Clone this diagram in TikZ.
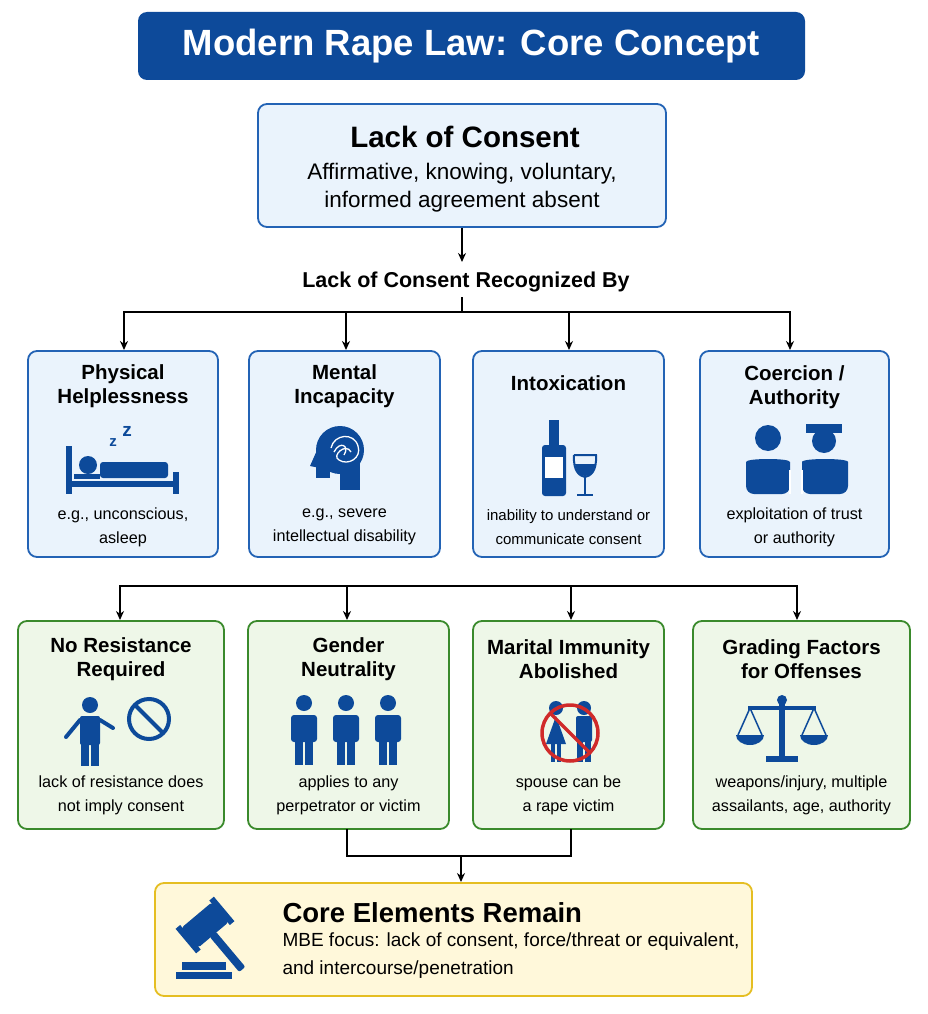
\documentclass[tikz,border=0pt]{standalone}
\usepackage{fontspec}
\setmainfont{Liberation Sans}
\usetikzlibrary{arrows.meta}
\definecolor{navy}{HTML}{0D4A9A}
\definecolor{bbord}{HTML}{2363B5}
\definecolor{bfill}{HTML}{EAF3FC}
\definecolor{gbord}{HTML}{3A8A2C}
\definecolor{gfill}{HTML}{EEF7E8}
\definecolor{ybord}{HTML}{E5BE22}
\definecolor{yfill}{HTML}{FFF8DA}
\definecolor{redp}{HTML}{D02A2A}
\begin{document}
\begin{tikzpicture}[x=1pt,y=-1pt,
  bbox/.style={draw=bbord,fill=bfill,line width=1.8pt,rounded corners=9pt},
  gbox/.style={draw=gbord,fill=gfill,line width=1.8pt,rounded corners=9pt},
  ttl/.style={font=\fontsize{20.5}{24}\selectfont\bfseries,align=center},
  dsc/.style={font=\fontsize{16.2}{24}\selectfont,align=center},
  con/.style={line width=1.6pt,black},
  arr/.style={con,-{Stealth[length=9pt,width=8pt]}},
  ic/.style={fill=navy,draw=none}]
\useasboundingbox (0,0) rectangle (928,1014);
% title
\node[fill=navy,rounded corners=9pt,minimum width=667pt,minimum height=68pt,text=white,font=\fontsize{36.5}{40}\selectfont\bfseries] (title) at (471.5,46) {Modern Rape Law: Core Concept};
% lack of consent
\node[bbox,minimum width=408pt,minimum height=123pt] (loc) at (462,165.5) {};
\node[font=\fontsize{29.5}{32}\selectfont\bfseries] (loct) at (465,137) {Lack of Consent};
\node[font=\fontsize{22.5}{28}\selectfont,align=center] (locd) at (462,188) {Affirmative, knowing, voluntary,\\informed agreement absent};
\node[font=\fontsize{21.5}{24}\selectfont\bfseries] (rb) at (466,282) {Lack of Consent Recognized By};
\draw[arr] (loc.south) -- (462,262);
\coordinate (j1) at (462,312);
\draw[con] (462,297) -- (j1);
\draw[con] (124,312) -- (790,312);
% row 1
\foreach \n/\x/\w in {p1/123/190,p2/344.5/191,p3/568.5/191,p4/794.5/189}{
  \node[bbox,minimum width=\w pt,minimum height=206pt] (\n) at (\x,454) {};}
\foreach \n/\x in {p1/124,p2/346,p3/569,p4/790}{\draw[arr] (\x,311) -- (\x,350);}
\node[ttl] at (123,386) {Physical\\Helplessness};
\node[ttl] at (344.5,386) {Mental\\Incapacity};
\node[ttl] at (568.5,383) {Intoxication};
\node[ttl] at (794.5,387) {Coercion /\\Authority};
\node[dsc] at (123,527) {e.g., unconscious,\\asleep};
\node[dsc] at (344.5,527) {e.g., severe\\intellectual disability};
\node[dsc,font=\fontsize{15}{24}\selectfont] at (568.5,527) {inability to understand or\\communicate consent};
\node[dsc] at (794.5,527) {exploitation of trust\\or authority};
% icon bed
\fill[navy] (66,446) rectangle (72,494);
\fill[navy] (173,472) rectangle (179,494);
\fill[navy] (66,481) rectangle (179,487);
\fill[navy,rounded corners=3pt] (100,462) rectangle (168,478);
\fill[navy] (88,465) circle (9pt);
\fill[navy] (74,474) rectangle (100,479);
\node[text=navy,font=\fontsize{15}{15}\selectfont\bfseries] at (113,443) {z};
\node[text=navy,font=\fontsize{19}{19}\selectfont\bfseries] at (127,431) {z};
% head (facing left)
\fill[navy] (340,450) circle (24pt);
\fill[navy] (340,462) rectangle (360,490);
\fill[navy] (318,448) -- (310,466) -- (320,468) -- cycle;
\fill[navy] (316,460) rectangle (330,478);
\draw[white,line width=1.3pt] (331,448) .. controls (334,434) and (354,432) .. (358,446) .. controls (362,458) and (348,466) .. (339,460) .. controls (331,456) and (346,442) .. (351,452);
\draw[white,line width=1.3pt] (334,452) .. controls (340,440) and (350,446) .. (344,455);
% bottle & glass
\fill[navy,rounded corners=3pt] (542,445) rectangle (566,496);
\fill[navy] (549,420) rectangle (559,448);
\fill[white] (545,457) rectangle (563,478);
\draw[navy,line width=2pt] (574,455) -- (596,455) .. controls (597,472) and (590,476) .. (585,477) .. controls (580,476) and (573,472) .. (574,455);
\fill[navy] (575,464) .. controls (576,472) and (581,476) .. (585,476) .. controls (589,476) and (595,472) .. (595,464) -- cycle;
\draw[navy,line width=2.2pt] (585,477) -- (585,494) (577,495) -- (593,495);
% people + police
\fill[navy] (768,438) circle (13pt);
\fill[navy,rounded corners=8pt] (746,494) -- (746,470) .. controls (746,458) and (790,458) .. (790,470) -- (790,494) -- cycle;
\fill[navy] (824,441) circle (12pt);
\fill[navy] (806,424) rectangle (842,433);
\fill[navy,rounded corners=8pt] (802,494) -- (802,470) .. controls (802,458) and (848,458) .. (848,470) -- (848,494) -- cycle;
\draw[white,line width=1.5pt] (790,470) -- (790,494) (802,470) -- (802,494);
% row 1 to row 2 connector
\draw[con] (120,586) -- (797,586);
\foreach \x in {120,347,571,797}{\draw[arr] (\x,585) -- (\x,620);}
% row 2
\foreach \n/\x/\w in {g1/121/206,g2/348.5/201,g3/568.5/191,g4/801.5/217}{
  \node[gbox,minimum width=\w pt,minimum height=208pt] (\n) at (\x,725) {};}
\node[ttl] at (121,659) {No Resistance\\Required};
\node[ttl] at (348.5,659) {Gender\\Neutrality};
\node[ttl] at (568.5,659) {Marital Immunity\\Abolished};
\node[ttl] at (801.5,659) {Grading Factors\\for Offenses};
\node[dsc] at (121,795) {lack of resistance does\\not imply consent};
\node[dsc] at (348.5,795) {applies to any\\perpetrator or victim};
\node[dsc] at (568.5,795) {spouse can be\\a rape victim};
\node[dsc] at (801.5,795) {weapons/injury, multiple\\assailants, age, authority};
% no resistance icon
\fill[navy] (90,705) circle (8pt);
\fill[navy,rounded corners=2pt] (80,716) rectangle (100,745);
\fill[navy] (81,742) rectangle (89,766);
\fill[navy] (91,742) rectangle (99,766);
\draw[navy,line width=4pt,line cap=round] (80,720) -- (66,737) (100,720) -- (113,728);
\draw[navy,line width=4pt] (149,719) circle (20pt);
\draw[navy,line width=4pt] (135,705) -- (163,733);
% three people
\foreach \x in {304,346,388}{
  \fill[navy] (\x,703) circle (8pt);
  \fill[navy,rounded corners=3pt] (\x-13,715) rectangle (\x+13,742);
  \fill[navy] (\x-9,740) rectangle (\x-1,765);
  \fill[navy] (\x+1,740) rectangle (\x+9,765);}
% marital
\fill[navy] (556,708) circle (7pt);
\fill[navy] (556,716) -- (546,744) -- (566,744) -- cycle;
\fill[navy] (551,744) rectangle (555,762); \fill[navy] (557,744) rectangle (561,762);
\fill[navy] (584,708) circle (7pt);
\fill[navy,rounded corners=2pt] (576,716) rectangle (592,742);
\fill[navy] (577,740) rectangle (583,762); \fill[navy] (585,740) rectangle (591,762);
\draw[redp,line width=3.5pt] (570,733) circle (28pt);
\draw[redp,line width=3.5pt] (550,713) -- (590,753);
% scales
\fill[navy] (779,702) rectangle (785,756);
\fill[navy] (766,756) rectangle (798,762);
\fill[navy] (782,700) circle (5pt);
\fill[navy] (748,706) rectangle (816,710);
\draw[navy,line width=1.5pt] (750,708) -- (738,735) (750,708) -- (762,735) (814,708) -- (802,735) (814,708) -- (826,735);
\fill[navy] (736,735) arc (180:360:14pt and 10pt) -- cycle;
\fill[navy] (800,735) arc (180:360:14pt and 10pt) -- cycle;
% bottom connector
\draw[con] (347,829) -- (347,856) -- (571,856) -- (571,829);
\draw[arr] (461,855) -- (461,882);
% core box
\node[draw=ybord,fill=yfill,line width=1.8pt,rounded corners=9pt,minimum width=597pt,minimum height=113pt] (core) at (453.5,939.5) {};
\node[anchor=west,font=\fontsize{27.5}{30}\selectfont\bfseries] at (279,913) {Core Elements Remain};
\node[anchor=west,align=left,font=\fontsize{19}{28}\selectfont] at (279,956) {MBE focus: lack of consent, force/threat or equivalent,\\and intercourse/penetration};
% gavel
\begin{scope}[shift={(205,925)},rotate=40]
\fill[navy,rounded corners=3pt] (-20,-13) rectangle (20,13);
\fill[navy] (-25,-16) rectangle (-19,16);
\fill[navy] (19,-16) rectangle (25,16);
\fill[navy,rounded corners=2pt] (-4,12) rectangle (4,58);
\end{scope}
\fill[navy] (182,962) rectangle (226,970);
\fill[navy] (176,972) rectangle (232,979);
\end{tikzpicture}
\end{document}
